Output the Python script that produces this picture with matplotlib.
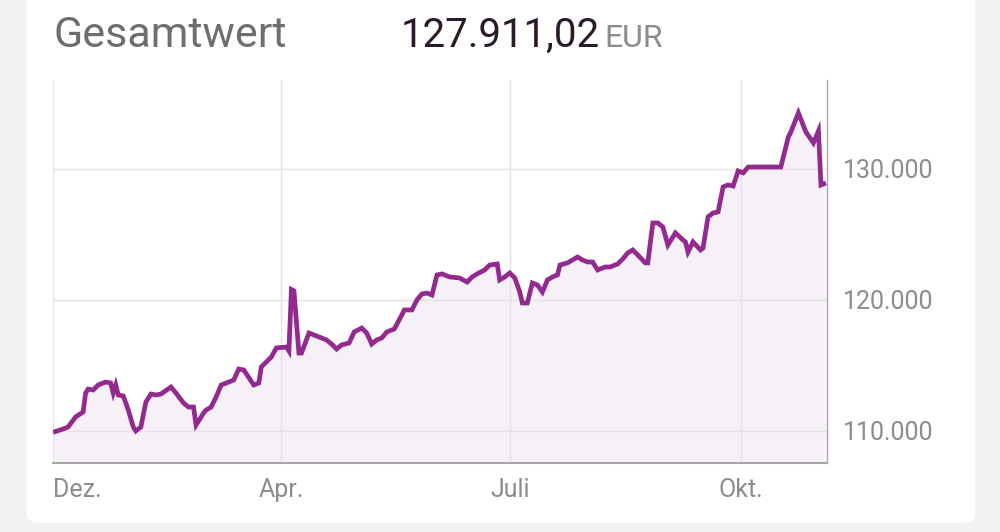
import pandas as pd
import matplotlib
matplotlib.use('Agg')
import matplotlib.pyplot as plt
from matplotlib.patches import FancyBboxPatch

# Werte (Tage seit Start, Depotwert in EUR)
start_date = pd.Timestamp("2022-12-31")
days = [0, 4, 6, 9, 12, 13, 14, 16, 18, 21, 23, 24, 25, 26, 28, 30, 32, 33, 35, 37,
        39, 41, 43, 47, 49, 52, 54, 56, 57, 60, 61, 63, 65, 67, 70, 72, 74, 76, 80, 82,
        83, 87, 89, 93, 94, 95, 96, 98, 99, 102, 104, 109, 111, 113, 115, 118, 120, 123, 125, 127,
        129, 131, 133, 136, 138, 140, 143, 145, 147, 149, 151, 153, 155, 158, 162, 165, 167, 169, 172, 174,
        177, 178, 180, 182, 184, 186, 187, 189, 191, 193, 195, 197, 199, 201, 202, 205, 209, 211, 213, 215,
        217, 220, 222, 225, 227, 229, 231, 233, 236, 237, 239, 241, 243, 245, 248, 251, 252, 253, 255, 258,
        259, 261, 263, 265, 267, 269, 271, 273, 275, 277, 290, 293, 294, 297, 300, 303, 305, 306, 308]
values = [109900, 110150, 110300, 111070, 111450, 112900, 113200, 113130, 113510, 113740, 113660, 112900, 113510, 112750, 112670, 111600, 110300, 110000, 110300, 112210,
          112820, 112750, 112820, 113360, 112900, 112140, 111830, 111830, 110460, 111370, 111600, 111830, 112600, 113510, 113740, 113890, 114730, 114660, 113510, 113660,
          114890, 115650, 116340, 116410, 116110, 120800, 120700, 115950, 115950, 117480, 117330, 116950, 116640, 116260, 116570, 116720, 117560, 117860, 117480, 116640,
          116950, 117100, 117560, 117790, 118500, 119240, 119240, 120000, 120460, 120530, 120380, 121910, 121990, 121760, 121680, 121370, 121760, 121990, 122290, 122670,
          122750, 121530, 121760, 122060, 121680, 120610, 119770, 119770, 121300, 121150, 120610, 121530, 121760, 121910, 122670, 122830, 123280, 123050, 122900, 122900,
          122290, 122520, 122520, 122750, 123130, 123590, 123820, 123440, 122830, 122830, 125880, 125880, 125570, 124200, 125120, 124580, 124430, 123660, 124430, 123820,
          123970, 126340, 126640, 126720, 128630, 128780, 128700, 129850, 129700, 130150, 130150, 132440, 132820, 134280, 132820, 131990, 132900, 128780, 128930]

month_ticks = ["2022-12-31", "2023-04-01", "2023-07-01", "2023-10-01"]
month_labels = ["Dez.", "Apr.", "Juli", "Okt."]
y_ticks = [110000, 120000, 130000]
title = "Gesamtwert"
total_text = "127.911,02"
currency = "EUR"

FONT = ["Roboto", "DejaVu Sans"]
LINE_COLOUR = "#932a8f"
FILL_COLOUR = "#f6f0f7"
GRID_COLOUR = "#e3e3e3"
LABEL_COLOUR = "#8c8c8c"

dates = start_date + pd.to_timedelta(days, unit="D")

fig = plt.figure(figsize=(10, 5.32), dpi=100)
fig.patch.set_facecolor("#f2f2f2")

# white card with rounded corners at the bottom (top runs off the figure)
card = FancyBboxPatch((0.027, 0.017), 0.948, 1.1, boxstyle="round,pad=0,rounding_size=0.014",
                      transform=fig.transFigure, facecolor="white", edgecolor="none", zorder=0)
fig.patches.append(card)

ax = fig.add_axes([0.053, 0.1297, 0.774, 0.72])
ax.set_zorder(1)
ax.set_facecolor("none")

y_bottom = 107557
ax.fill_between(dates, values, y_bottom, color=FILL_COLOUR, zorder=1, linewidth=0)
ax.plot(dates, values, color=LINE_COLOUR, linewidth=3.4, zorder=3,
        solid_joinstyle="miter", solid_capstyle="butt")

ax.set_xlim(start_date, start_date + pd.Timedelta(days=308.4))
ax.set_ylim(y_bottom, 136794)

tick_dates = pd.to_datetime(month_ticks)
ax.set_xticks(tick_dates)
ax.set_xticklabels(month_labels)
ax.set_yticks(y_ticks)
ax.set_yticklabels([f"{v:,}".replace(",", ".") for v in y_ticks])

ax.yaxis.tick_right()
ax.tick_params(axis="both", length=0, colors=LABEL_COLOUR, labelsize=18)
ax.tick_params(axis="x", pad=11)
ax.tick_params(axis="y", pad=11.5)
for lab in ax.get_xticklabels() + ax.get_yticklabels():
    lab.set_fontfamily(FONT)
ax.get_xticklabels()[0].set_horizontalalignment("left")

ax.grid(True, color=GRID_COLOUR, linewidth=1, zorder=2)
for line in ax.get_xgridlines() + ax.get_ygridlines():
    line.set_zorder(2)

for side in ["top", "left"]:
    ax.spines[side].set_visible(False)
ax.spines["right"].set_color("#a8a8a8")
ax.spines["right"].set_linewidth(1)
ax.spines["bottom"].set_color("#a8a8a8")
ax.spines["bottom"].set_linewidth(1.5)

fig.text(0.054, 0.912, title, fontsize=31, color="#6e6e6e", family=FONT, va="baseline")
fig.text(0.401, 0.912, total_text, fontsize=29, color="#2b1a2a", family=FONT, va="baseline")
fig.text(0.604, 0.912, currency, fontsize=23, color="#8c8c8c", family=FONT, va="baseline")

fig.savefig("out.png", dpi=100, facecolor=fig.get_facecolor())
